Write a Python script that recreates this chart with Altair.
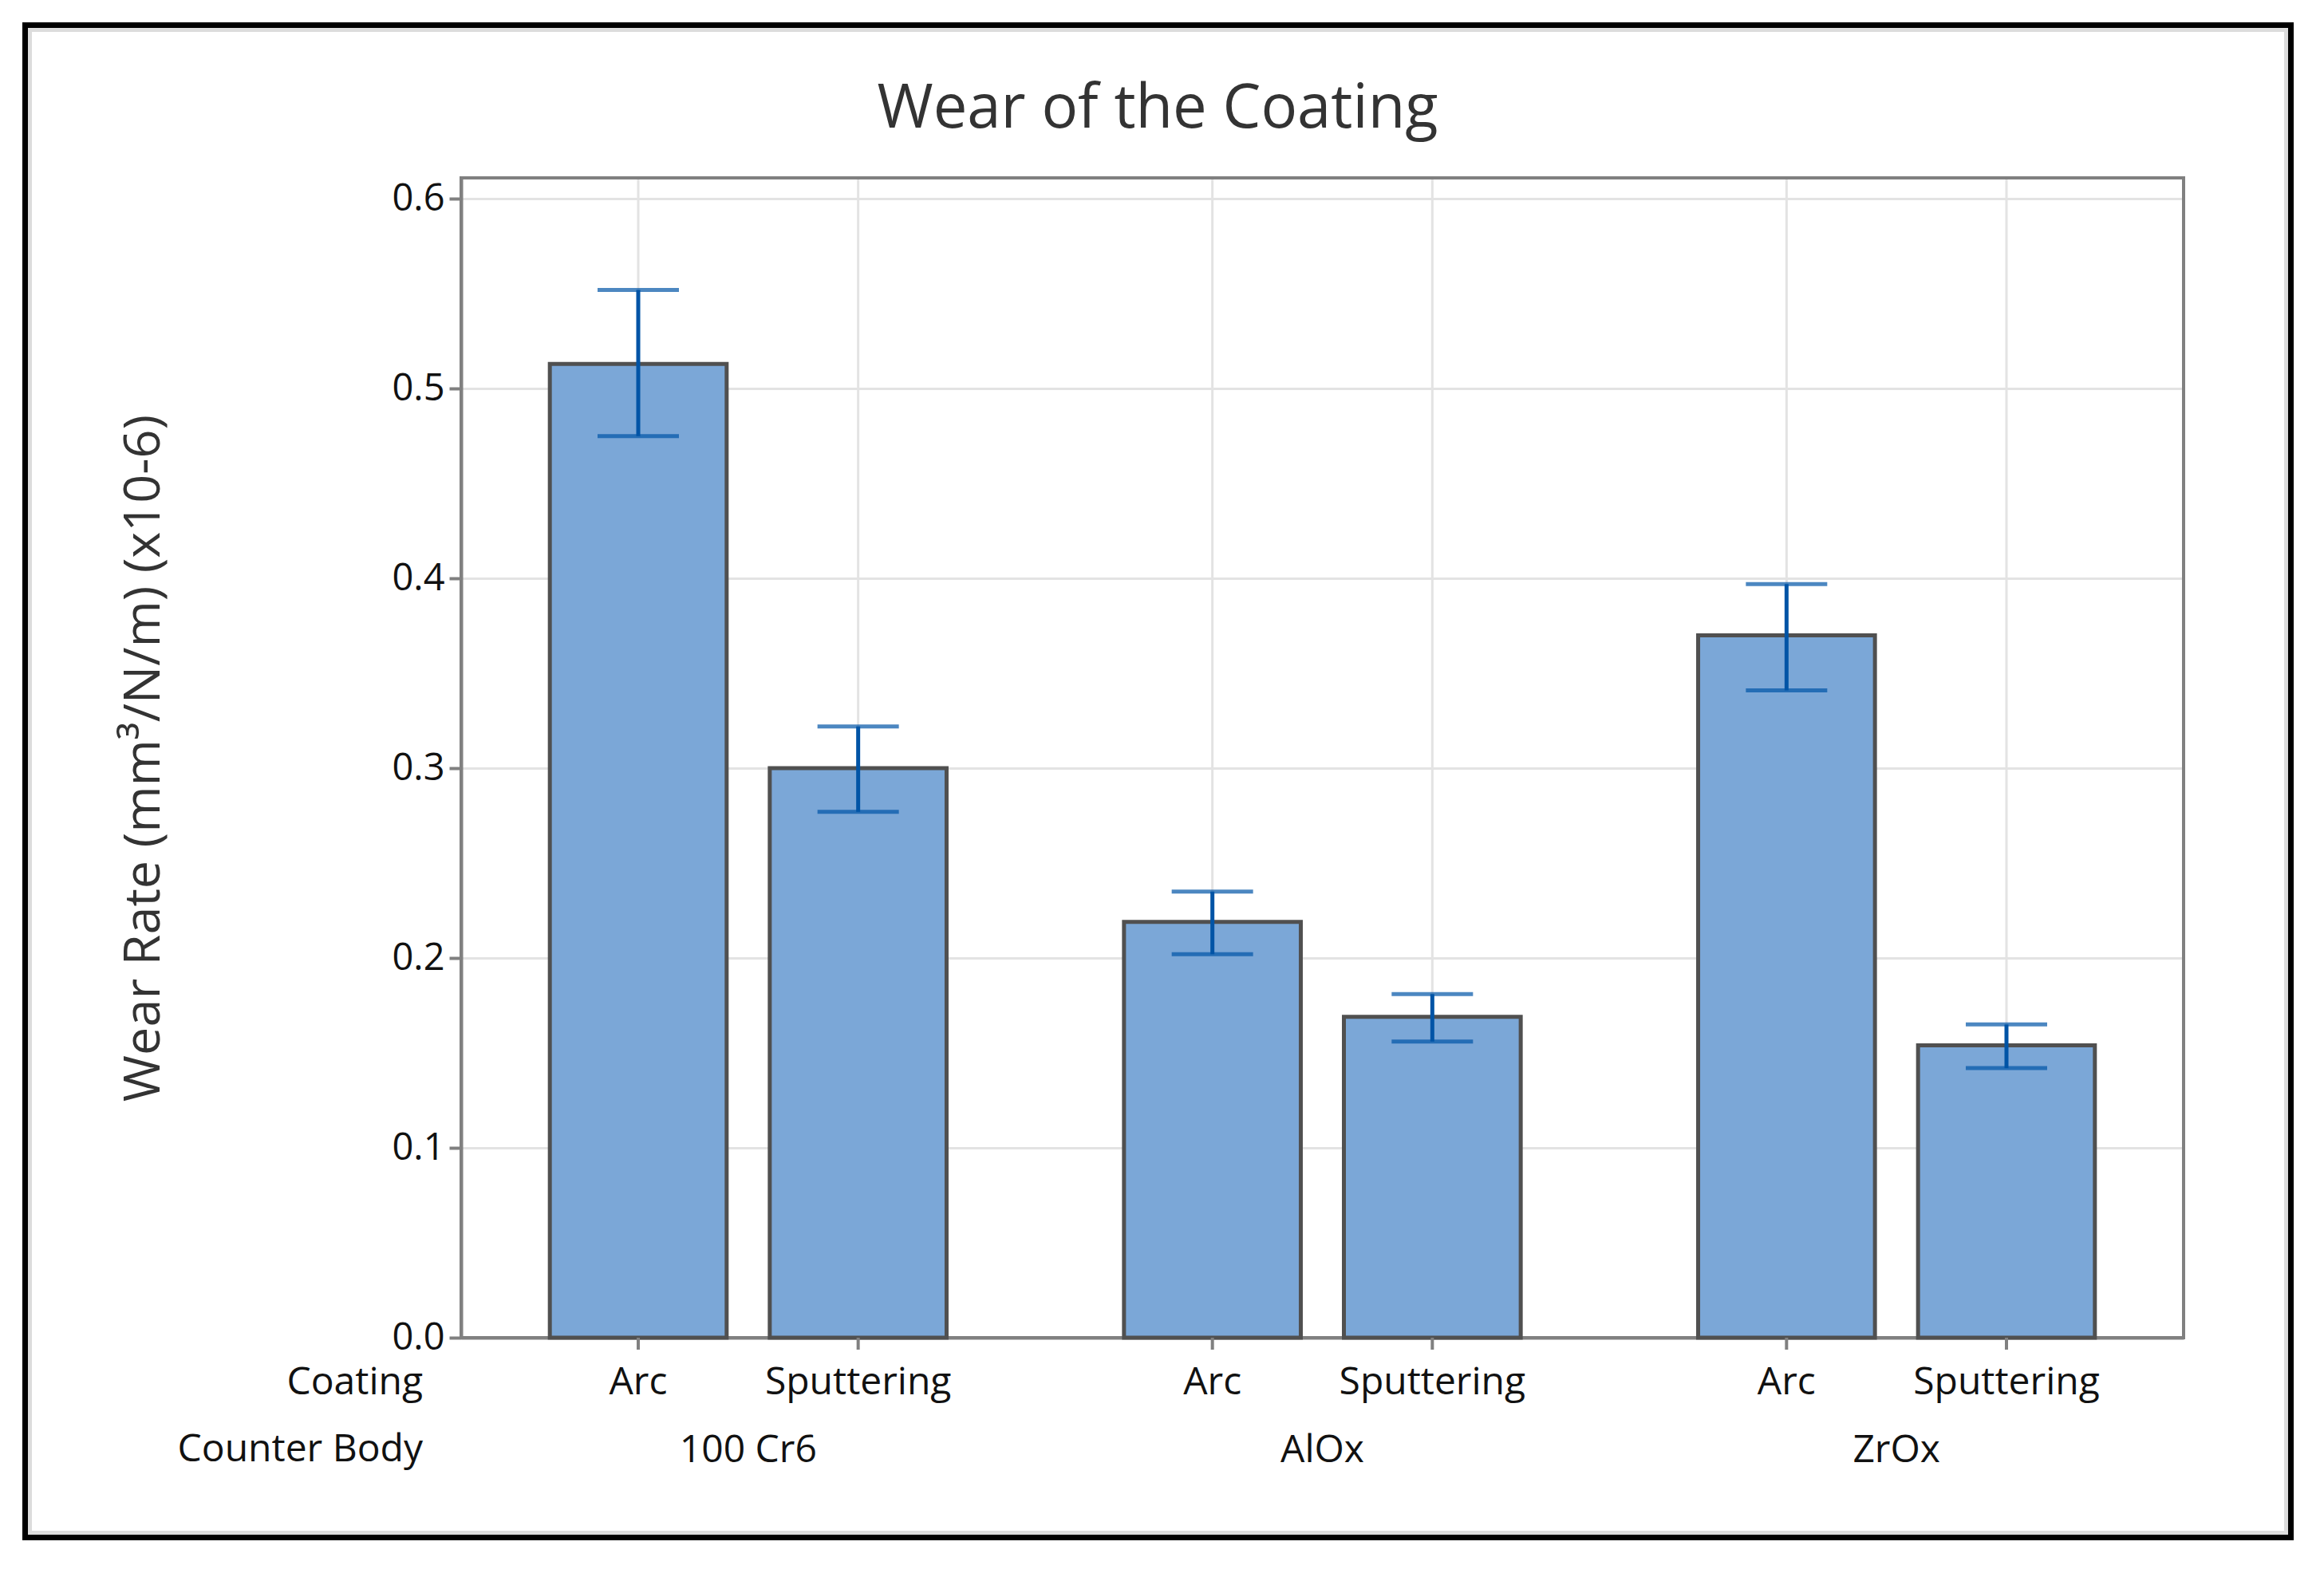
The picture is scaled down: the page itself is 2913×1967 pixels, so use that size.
import altair as alt
import pandas as pd

# ---- data ----
bodies = ["100 Cr6", "AlOx", "ZrOx"]
coatings = ["Arc", "Sputtering"]
body_col = ["100 Cr6", "100 Cr6", "AlOx", "AlOx", "ZrOx", "ZrOx"]
coating_col = ["Arc", "Sputtering", "Arc", "Sputtering", "Arc", "Sputtering"]
wear_rate = [0.513, 0.300, 0.219, 0.169, 0.370, 0.154]
err_low = [0.475, 0.277, 0.202, 0.156, 0.341, 0.142]
err_high = [0.552, 0.322, 0.235, 0.181, 0.397, 0.165]
y_ticks = [0.0, 0.1, 0.2, 0.3, 0.4, 0.5, 0.6]
title_text = ["Wear of the Coating"]

df = pd.DataFrame({
    "body": body_col,
    "coating": coating_col,
    "rate": wear_rate,
    "lo": err_low,
    "hi": err_high,
})

W, H = 2159, 1454
FONT = "Open Sans"
GRID = "#e3e3e3"
AXIS = "#808080"
BAR_FILL = "#7BA7D7"
BAR_STROKE = "#505050"
ERR = "#0054A6"

x_enc = alt.X(
    "body:N", sort=bodies,
    scale=alt.Scale(paddingInner=0.309, paddingOuter=0.1545),
    axis=alt.Axis(title=None, ticks=False, tickSize=0, grid=False, domain=True,
                  domainColor=AXIS, domainWidth=4, labelAngle=0,
                  labelFont=FONT, labelFontSize=48, labelColor="#111111",
                  labelPadding=141, labelBaseline="middle"),
)
xo_enc = alt.XOffset("coating:N", sort=coatings,
                     scale=alt.Scale(paddingInner=0.196, paddingOuter=0))
y_scale = alt.Scale(domain=[0, 0.611], nice=False, zero=True)

base = alt.Chart(df)

vgrid = base.mark_rule(color=GRID, strokeWidth=3).encode(x=x_enc, xOffset=xo_enc)

one = pd.DataFrame({"k": [1]})
plot_frame = alt.Chart(one).mark_rect(fill=None, stroke=AXIS, strokeWidth=4).encode(
    x=alt.value(0), x2=alt.value(W), y=alt.value(0), y2=alt.value(H))

bars = base.mark_bar(fill=BAR_FILL, stroke=BAR_STROKE, strokeWidth=5).encode(
    x=x_enc, xOffset=xo_enc,
    y=alt.Y("rate:Q", scale=y_scale,
            axis=alt.Axis(values=y_ticks, format=".1f", grid=True, gridColor=GRID,
                          gridWidth=3, domainColor=AXIS, domainWidth=4,
                          tickColor=AXIS, tickWidth=4, tickSize=15,
                          labelFont=FONT, labelFontSize=47, labelColor="#111111",
                          labelPadding=6,
                          title="Wear Rate (mm³/N/m) (x10-6)",
                          titleFont=FONT, titleFontSize=63, titleFontWeight="normal",
                          titleColor="#333333", titleAngle=270,
                          titleX=-398, titleY=H / 2, titleAlign="center",
                          titleBaseline="middle")),
)

err_rule = base.mark_rule(color=ERR, strokeWidth=5).encode(
    x=x_enc, xOffset=xo_enc, y=alt.Y("lo:Q", scale=y_scale), y2="hi:Q")
cap_lo = base.mark_tick(color=ERR, thickness=5, size=102).encode(
    x=x_enc, xOffset=xo_enc, y=alt.Y("lo:Q", scale=y_scale))
cap_hi = base.mark_tick(color=ERR, thickness=5, size=102).encode(
    x=x_enc, xOffset=xo_enc, y=alt.Y("hi:Q", scale=y_scale))

xticks = base.mark_rule(color=AXIS, strokeWidth=4).encode(
    x=x_enc, xOffset=xo_enc, y=alt.value(H), y2=alt.value(H + 15))

coat_labels = base.mark_text(font=FONT, fontSize=48, color="#111111",
                             baseline="middle", align="center").encode(
    x=x_enc, xOffset=xo_enc, y=alt.value(H + 57), text="coating:N")

hdr1 = alt.Chart(pd.DataFrame({"t": ["Coating"]})).mark_text(
    font=FONT, fontSize=48, color="#111111", align="right", baseline="middle").encode(
    x=alt.value(-48), y=alt.value(H + 57), text="t:N")
hdr2 = alt.Chart(pd.DataFrame({"t": ["Counter Body"]})).mark_text(
    font=FONT, fontSize=48, color="#111111", align="right", baseline="middle").encode(
    x=alt.value(-48), y=alt.value(H + 141), text="t:N")

title = alt.Chart(pd.DataFrame({"t": title_text})).mark_text(
    font=FONT, fontSize=76, color="#333333", align="center", baseline="middle").encode(
    x=alt.value(873), y=alt.value(-86), text="t:N")

frame_black = alt.Chart(one).mark_rect(fill=None, stroke="#000000", strokeWidth=7).encode(
    x=alt.value(-546.5), x2=alt.value(2293.5), y=alt.value(-191.5), y2=alt.value(1704.5))
frame_grey = alt.Chart(one).mark_rect(fill=None, stroke="#dcdcdc", strokeWidth=5).encode(
    x=alt.value(-540.5), x2=alt.value(2287.5), y=alt.value(-185.5), y2=alt.value(1698.5))

chart = alt.layer(
    vgrid, plot_frame, bars, err_rule, cap_lo, cap_hi, xticks, coat_labels,
    hdr1, hdr2, title, frame_grey, frame_black,
).properties(
    width=W, height=H,
    autosize=alt.AutoSizeParams(type="none"),
    padding={"left": 570, "top": 215, "right": 160, "bottom": 275},
).configure_view(
    stroke=AXIS, strokeWidth=4
).configure(background="white")

chart.save("out.html", embed_options={"renderer": "svg", "actions": False})
